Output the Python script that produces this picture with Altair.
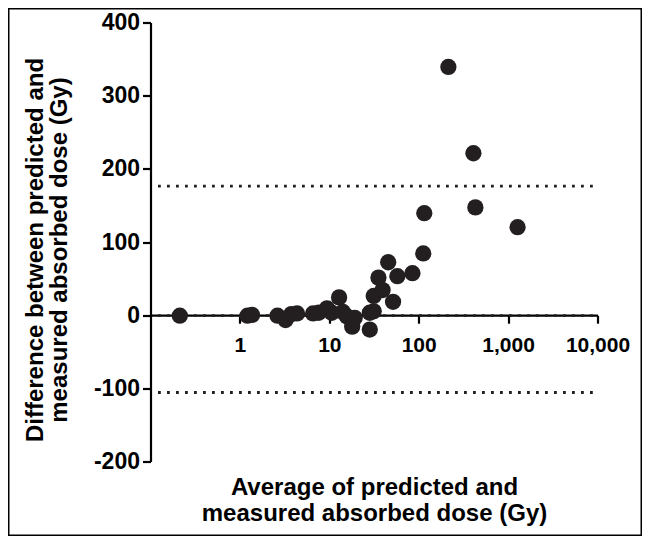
import altair as alt
import pandas as pd

avg_dose = [0.21, 1.2, 1.35, 2.6, 3.2, 3.7, 4.3, 6.5, 7.5, 9.3, 10.5, 12.7, 14, 15.6,
            17.8, 19, 28, 28, 31, 31, 35, 39, 45, 51, 57, 84, 111, 114, 212, 404, 425, 1260]
diff_dose = [0, 0, 1, 0, -6, 2, 3, 3, 4, 10, 4, 25, 5, -1,
             -15, -3, -19, 4, 6, 27, 52, 35, 73, 19, 54, 58, 85, 140, 340, 222, 148, 121]
limit_values = [177, -105, 0]
x_ticks = [1, 10, 100, 1000, 10000]
y_ticks = [-200, -100, 0, 100, 200, 300, 400]

pts = pd.DataFrame({"avg": avg_dose, "diff": diff_dose})
lims = pd.DataFrame({"lim": limit_values})

W, H = 447, 439
PL, PT, PR, PB = 143, 15, 44, 74
FONT = "Liberation Sans"
INK = "#231f20"

xscale = alt.Scale(type="log", domain=[0.1, 10000], nice=False)
yscale = alt.Scale(domain=[-200, 400], nice=False, zero=False)

common = dict(domainColor="black", tickColor="black", domainWidth=2.2, tickWidth=2.2, tickSize=8,
              grid=False, labelFont=FONT, titleFont=FONT, labelFontWeight="bold",
              titleFontWeight="bold", labelColor="black", titleColor="black",
              labelFlush=False, labelOverlap=False, translate=0)

x_axis = alt.Axis(values=x_ticks, format=",", offset=-146.3,
                  title=["Average of predicted and", "measured absorbed dose (Gy)"],
                  titleY=160, titleLineHeight=26, titleFontSize=24,
                  labelPadding=11, labelFontSize=21, **common)
y_axis = alt.Axis(values=y_ticks, labelExpr="'' + datum.value",
                  title=["Difference between predicted and", "measured absorbed dose (Gy)"],
                  titleX=-103, titleY=227, titleLineHeight=24, titleFontSize=24,
                  labelPadding=3, labelFontSize=23, **common)

points = alt.Chart(pts).mark_circle(size=265, opacity=1, color=INK).encode(
    x=alt.X("avg:Q", scale=xscale, axis=x_axis),
    y=alt.Y("diff:Q", scale=yscale, axis=y_axis),
)

lines = alt.Chart(lims).mark_rule(color=INK, strokeWidth=2.8, strokeDash=[2.8, 6.2]).encode(
    y=alt.Y("lim:Q", scale=yscale, axis=y_axis),
    x=alt.value(7),
    x2=alt.value(W),
)

frame = alt.Chart(pd.DataFrame({"a": [0]})).mark_rect(
    filled=False, stroke="black", strokeWidth=1.5, clip=False
).encode(
    x=alt.value(-PL + 0.75),
    x2=alt.value(W + PR - 0.75),
    y=alt.value(-PT + 0.75),
    y2=alt.value(H + PB - 0.75),
)

chart = alt.layer(frame, lines, points).properties(
    width=W, height=H,
    autosize=alt.AutoSizeParams(type="none"),
    padding={"left": PL, "top": PT, "right": PR, "bottom": PB},
).configure_view(stroke=None)

chart.save("out.html", embed_options={"renderer": "svg", "actions": False})
